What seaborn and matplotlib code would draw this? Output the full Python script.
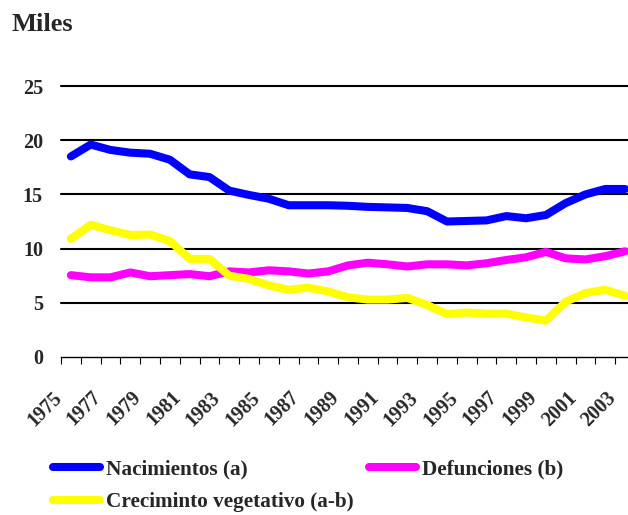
import pandas as pd
import seaborn as sns
import matplotlib.pyplot as plt
from matplotlib.transforms import ScaledTranslation
from matplotlib.lines import Line2D

# values (thousands)
years = list(range(1975, 2004))
nacimientos = [18.5, 19.6, 19.1, 18.85, 18.75, 18.2, 16.85, 16.6, 15.35, 14.95,
               14.6, 14.0, 14.0, 14.0, 13.95, 13.85, 13.8, 13.75, 13.45, 12.5,
               12.55, 12.6, 13.0, 12.8, 13.1, 14.2, 15.0, 15.5, 15.5]
defunciones = [7.55, 7.35, 7.35, 7.8, 7.45, 7.55, 7.65, 7.45, 7.9, 7.8,
               8.0, 7.9, 7.7, 7.9, 8.45, 8.7, 8.55, 8.35, 8.55, 8.55,
               8.45, 8.65, 8.95, 9.2, 9.7, 9.1, 9.0, 9.3, 9.75]
crecimiento = [10.9, 12.2, 11.7, 11.25, 11.3, 10.7, 9.05, 9.05, 7.5, 7.2,
               6.6, 6.2, 6.4, 6.05, 5.5, 5.3, 5.3, 5.45, 4.8, 3.95,
               4.1, 4.0, 4.0, 3.65, 3.35, 5.1, 5.9, 6.2, 5.65]
series_names = ['Nacimientos (a)', 'Defunciones (b)', 'Creciminto vegetativo (a-b)']
series_colors = ['#0000FF', '#FF00FF', '#FFFF00']
yticks = [0, 5, 10, 15, 20, 25]

frames = []
for name, vals in zip(series_names, [nacimientos, defunciones, crecimiento]):
    frames.append(pd.DataFrame({'pos': range(len(years)), 'valor': vals, 'serie': name}))
df = pd.concat(frames)

sns.set_style('white')
plt.rcParams['font.family'] = ['Liberation Serif', 'DejaVu Serif']
plt.rcParams['font.weight'] = 'bold'

fig = plt.figure(figsize=(6.28, 5.15), dpi=100)
ax = fig.add_axes([61 / 628, 158 / 515, 574 / 628, 271 / 515])

for y in yticks[1:]:
    ax.axhline(y, color='black', lw=1.5, zorder=1, clip_on=False)

sns.lineplot(data=df, x='pos', y='valor', hue='serie', hue_order=series_names,
             palette=series_colors, linewidth=5.8, legend=False, ax=ax, zorder=3)
for line in ax.get_lines():
    line.set_solid_capstyle('round')
    line.set_solid_joinstyle('round')

ax.set_xlim(-0.5, len(years) - 0.5)
ax.set_ylim(0, 25)
for s in ['top', 'right', 'left']:
    ax.spines[s].set_visible(False)
ax.spines['bottom'].set_color('black')
ax.spines['bottom'].set_linewidth(1)

ax.set_yticks(yticks)
ax.set_yticklabels([str(v) for v in yticks], fontsize=14.5, fontweight='bold')
ax.tick_params(axis='y', length=0, pad=13)

ax.set_xticks([i - 0.5 for i in range(len(years) + 1)], minor=True)
ax.tick_params(axis='x', which='minor', bottom=True, length=5, width=0.8,
               color='black', direction='out')
ax.set_xticks(range(0, len(years), 2))
ax.set_xticklabels([str(y) for y in years[::2]], fontsize=14.5, fontweight='bold',
                   rotation=45, ha='right', rotation_mode='anchor', va='top')
ax.tick_params(axis='x', which='major', length=0, pad=22)
offset = ScaledTranslation(-19 / 100, 0, fig.dpi_scale_trans)
for lab in ax.get_xticklabels():
    lab.set_transform(lab.get_transform() + offset)

ax.set_xlabel('')
ax.set_ylabel('')

fig.text(11 / 628, 1 - 13 / 515, 'Miles', fontsize=19, fontweight='bold', va='top', ha='left')

handles = [Line2D([], [], color=c, lw=5.8, solid_capstyle='round') for c in series_colors]
order = [0, 2, 1]
fig.legend([handles[i] for i in order], [series_names[i] for i in order],
           loc='upper left', bbox_to_anchor=(53 / 628, 1 - 459 / 515), ncol=2,
           frameon=False, borderaxespad=0, borderpad=0, handlelength=2.2,
           handletextpad=0.3, columnspacing=0.72, labelspacing=0.62,
           prop={'size': 15.3, 'weight': 'bold'})

fig.savefig('out.png', dpi=100)
